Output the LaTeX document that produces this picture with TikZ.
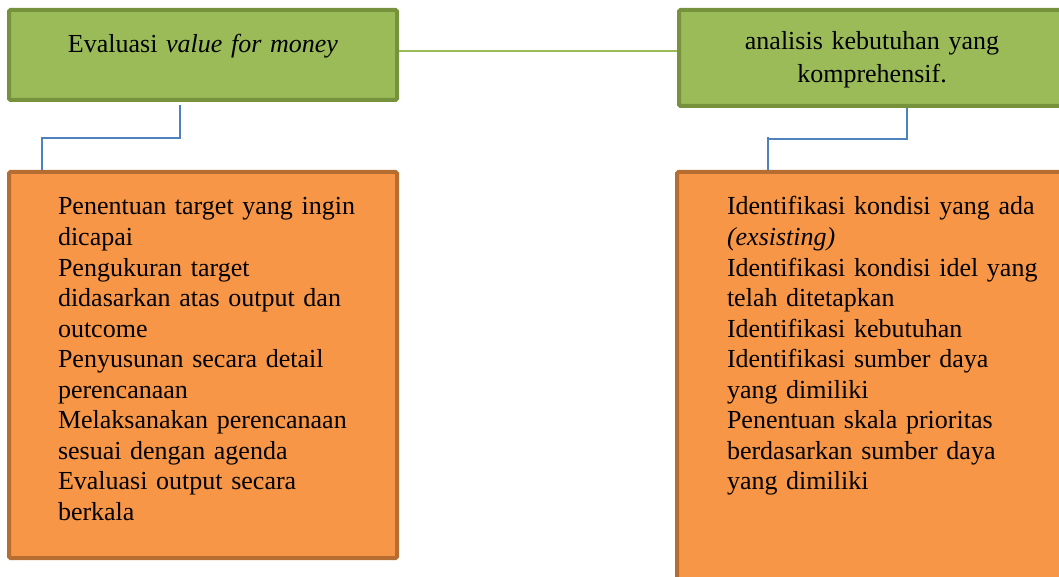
\documentclass[tikz,border=0pt]{standalone}
\usepackage{fontspec}
\setmainfont{Liberation Serif}
\usetikzlibrary{positioning}

\definecolor{greenfill}{HTML}{9BBB59}
\definecolor{greenline}{HTML}{76923C}
\definecolor{orangefill}{HTML}{F79646}
\definecolor{orangeline}{HTML}{B66D31}
\definecolor{blueline}{HTML}{4F81BD}

\begin{document}
\begin{tikzpicture}[x=1pt,y=-1pt,
	font=\fontsize{26}{30.5}\selectfont,
	box/.style={draw,line width=4pt,rounded corners=1.5pt,anchor=north,inner ysep=0pt,inner xsep=0pt},
	green box/.style={box,draw=greenline,fill=greenfill,align=center},
	orange box/.style={box,draw=orangeline,fill=orangefill,align=left,text width=340pt,
		execute at begin node={\leftskip=25pt}},
	link/.style={draw=blueline,line width=1.5pt}]
	
	\useasboundingbox (0,0) rectangle (1059,577);
	\clip (0,0) rectangle (1059,577);
	
	\node[green box,minimum width=388pt,text width=340pt,text height=43pt,text depth=47pt] (eval) at (203,8) {Evaluasi \textit{value for money}};
	\node[green box,minimum width=386pt,text width=340pt,text height=40pt,text depth=56pt] (analisis) at (872,8) {analisis kebutuhan yang\\[2.5pt] komprehensif.};
	
	\node[orange box,minimum width=388pt,text height=43pt,text depth=343pt] (langkah eval) [below=68pt of eval]
	{Penentuan target yang ingin\\ dicapai\\ Pengukuran target\\ didasarkan atas output dan\\ outcome\\ Penyusunan secara detail\\ perencanaan\\ Melaksanakan perencanaan\\ sesuai dengan agenda\\ Evaluasi output secara\\ berkala};
	\node[orange box,minimum width=390pt,text height=43pt,text depth=385pt] (langkah analisis) [below=62pt of analisis]
	{Identifikasi kondisi yang ada\\ \textit{(exsisting)}\\ Identifikasi kondisi idel yang\\ telah ditetapkan\\ Identifikasi kebutuhan\\ Identifikasi sumber daya\\ yang dimiliki\\ Penentuan skala prioritas\\ berdasarkan sumber daya\\ yang dimiliki};
	
	% penghubung
	\draw[draw=greenfill,line width=1.5pt] ([yshift=4pt]eval.east) -- ([yshift=7pt]analisis.west);
	\draw[link] ([xshift=-23pt,yshift=-3pt]eval.south) |- ([xshift=-161pt,yshift=32pt]langkah eval.north) -- ([xshift=-161pt]langkah eval.north);
	\draw[link] ([xshift=35pt]analisis.south) |- ([xshift=-104pt,yshift=31pt]langkah analisis.north);
	\draw[link] ([xshift=-104pt,yshift=33pt]langkah analisis.north) -- ([xshift=-104pt]langkah analisis.north);
\end{tikzpicture}
\end{document}
